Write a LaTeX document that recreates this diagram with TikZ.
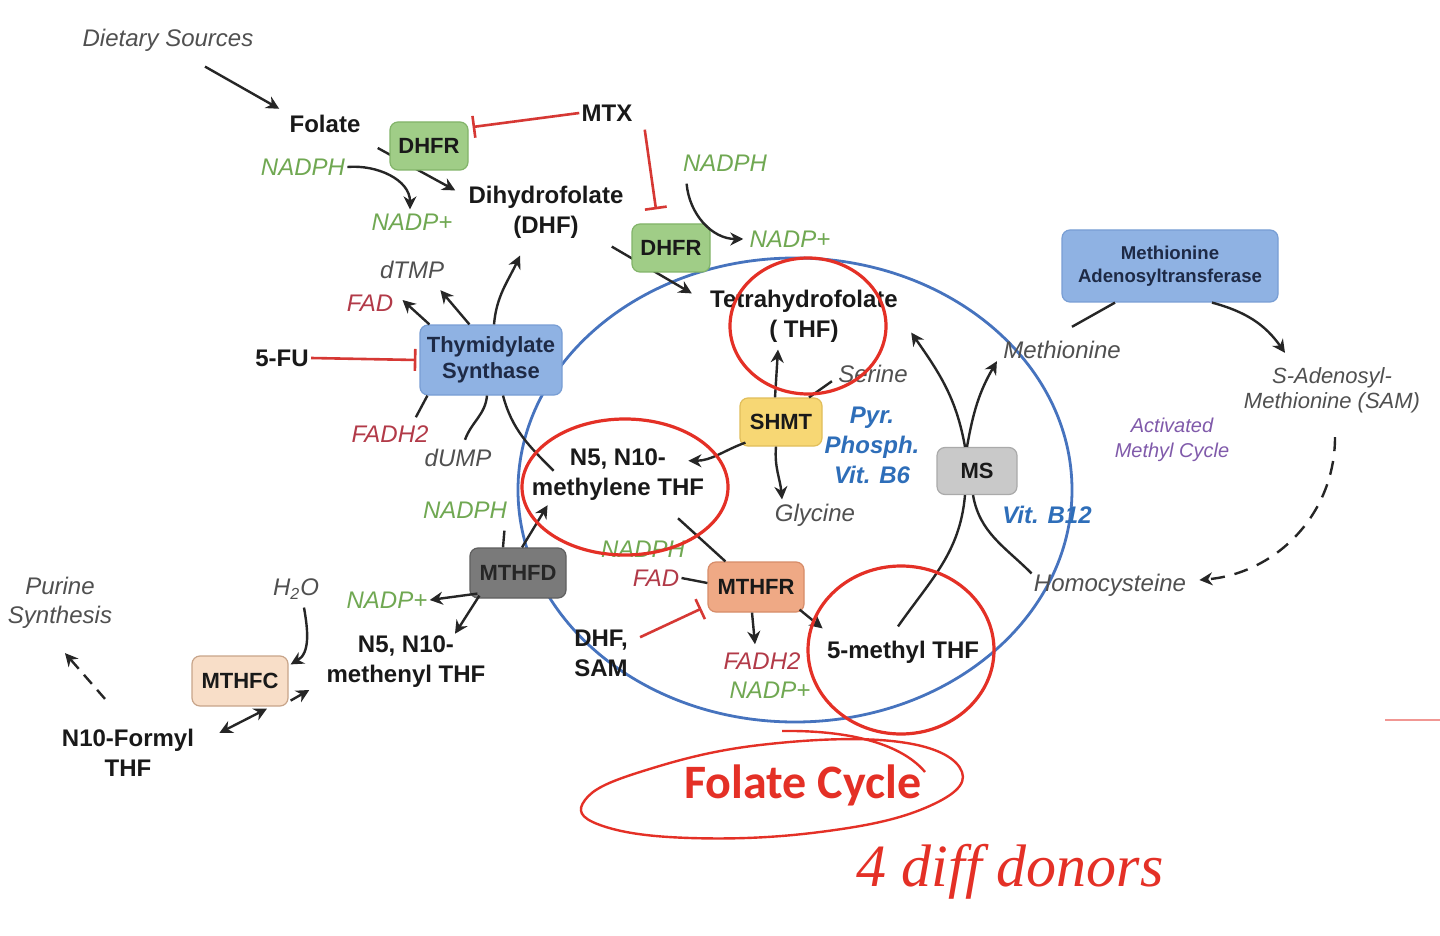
\documentclass[tikz,border=0pt]{standalone}
\usepackage{fontspec}
\setmainfont{Liberation Sans}
\newfontfamily\calfont{Carlito}
\newfontfamily\handfont{Liberation Serif}
\usetikzlibrary{arrows.meta,backgrounds}
\definecolor{nadg}{RGB}{112,168,82}
\definecolor{fadr}{RGB}{178,58,72}
\definecolor{txtg}{RGB}{80,80,80}
\definecolor{vitb}{RGB}{46,110,185}
\definecolor{purp}{RGB}{128,90,170}
\definecolor{inhr}{RGB}{214,56,52}
\definecolor{annr}{RGB}{228,48,38}
\definecolor{cycb}{RGB}{70,115,190}
\definecolor{dhfrfill}{RGB}{160,205,135}
\definecolor{dhfrdraw}{RGB}{130,180,105}
\definecolor{tsfill}{RGB}{143,178,227}
\definecolor{tsdraw}{RGB}{120,158,212}
\definecolor{tstext}{RGB}{30,42,70}
\definecolor{shmtfill}{RGB}{247,215,116}
\definecolor{shmtdraw}{RGB}{225,190,90}
\definecolor{msfill}{RGB}{201,201,201}
\definecolor{msdraw}{RGB}{170,170,170}
\definecolor{mthfdfill}{RGB}{122,122,122}
\definecolor{mthfddraw}{RGB}{95,95,95}
\definecolor{mthfrfill}{RGB}{239,169,133}
\definecolor{mthfrdraw}{RGB}{215,140,105}
\definecolor{mthfcfill}{RGB}{248,222,200}
\definecolor{mthfcdraw}{RGB}{200,165,138}
\tikzset{
  met/.style={font=\bfseries\fontsize{12}{15}\selectfont, align=center, text=black!90, inner sep=1pt},
  itl/.style={font=\itshape\fontsize{12}{14.5}\selectfont, align=center, text=txtg, inner sep=1pt},
  nad/.style={itl, text=nadg},
  fadl/.style={itl, text=fadr},
  vit/.style={font=\bfseries\itshape\fontsize{12}{15}\selectfont, align=center, text=vitb, inner sep=1pt},
  enz/.style={draw, rounded corners=4pt, font=\bfseries\fontsize{11}{13}\selectfont, align=center,
              inner sep=1pt, line width=0.6pt, minimum width=48pt, minimum height=25pt, text=black!90},
  arr/.style={-{Stealth[length=6.5pt,width=6.5pt]}, line width=1.2pt, black!85},
  lin/.style={line width=1.2pt, black!85},
  inh/.style={-{Bar[width=11pt,line width=1.3pt]}, line width=1.3pt, inhr},
  ann/.style={annr, line width=1.6pt},
  cyc/.style={cycb, line width=1.4pt}
}
\begin{document}
\begin{tikzpicture}[x=0.5pt,y=-0.5pt]
\useasboundingbox (0,0) rectangle (1440,936);
% nodes
\node[itl] (diet) at (168,40) {Dietary Sources};
\node[met] (folate) at (325,124) {Folate};
\node[enz, fill=dhfrfill, draw=dhfrdraw, minimum width=39pt, minimum height=24pt] (dhfr1) at (429,146) {DHFR};
\node[met] (mtx) at (607,113) {MTX};
\node[nad] (nadph1) at (303,167) {NADPH};
\node[nad] (nadp1) at (412,222) {NADP+};
\node[met] (dhf) at (546,212) {Dihydrofolate\\(DHF)};
\node[enz, fill=dhfrfill, draw=dhfrdraw, minimum width=39pt, minimum height=24pt] (dhfr2) at (671,248) {DHFR};
\node[nad] (nadph2) at (725,163) {NADPH};
\node[nad] (nadp2) at (790,239) {NADP+};
\node[met] (thf) at (804,316) {Tetrahydrofolate\\( THF)};
\node[enz, fill=tsfill, draw=tsdraw, text=tstext, minimum width=71pt, minimum height=35pt] (ts) at (491,360) {Thymidylate\\Synthase};
\node[met] (fu) at (282,358) {5-FU};
\node[itl] (dtmp) at (412,270) {dTMP};
\node[fadl] (fad1) at (370,303) {FAD};
\node[fadl] (fadh21) at (390,434) {FADH2};
\node[itl] (dump) at (458,458) {dUMP};
\node[met] (mthyl) at (618,475) {N5, N10-\\methylene THF};
\node[enz, fill=shmtfill, draw=shmtdraw, minimum width=41pt, minimum height=24pt] (shmt) at (781,422) {SHMT};
\node[itl] (ser) at (873,374) {Serine};
\node[itl] (gly) at (815,515) {Glycine};
\node[vit] (b6) at (872,445) {Pyr.\\Phosph.\\Vit. B6};
\node[enz, fill=msfill, draw=msdraw, minimum width=40pt, minimum height=23.5pt] (ms) at (977,471) {MS};
\node[itl] (met) at (1062,350) {Methionine};
\node[vit] (b12) at (1047,515) {Vit. B12};
\node[itl] (hcy) at (1110,585) {Homocysteine};
\node[enz, fill=tsfill, draw=tsdraw, text=tstext, font=\bfseries\fontsize{9.3}{11.5}\selectfont, minimum width=108pt, minimum height=36pt] (mat) at (1170,266) {Methionine\\Adenosyltransferase};
\node[itl, font=\itshape\fontsize{11}{12.5}\selectfont] (sam) at (1332,390) {S-Adenosyl-\\Methionine (SAM)};
\node[itl, text=purp, font=\itshape\fontsize{10}{12.5}\selectfont] (amc) at (1172,440) {Activated\\Methyl Cycle};
\node[enz, fill=mthfdfill, draw=mthfddraw, text=black!85] (mthfd) at (518,573) {MTHFD};
\node[nad] (nadph3) at (465,510) {NADPH};
\node[nad] (nadp3) at (387,600) {NADP+};
\node[met] (mthen) at (406,662) {N5, N10-\\methenyl THF};
\node[itl] (h2o) at (296,589) {H\textsubscript{2}O};
\node[enz, fill=mthfcfill, draw=mthfcdraw] (mthfc) at (240,681) {MTHFC};
\node[met] (formyl) at (128,753) {N10-Formyl\\THF};
\node[itl, font=\itshape\fontsize{12}{14.5}\selectfont] (purine) at (60,603) {Purine\\Synthesis};
\node[enz, fill=mthfrfill, draw=mthfrdraw] (mthfr) at (756,587) {MTHFR};
\node[nad] (nadph4) at (643,549) {NADPH};
\node[fadl] (fad2) at (656,578) {FAD};
\node[met] (dhfsam) at (601,653) {DHF,\\SAM};
\node[fadl] (fadh22) at (762,661) {FADH2};
\node[nad] (nadp4) at (770,690) {NADP+};
\node[met] (mthf) at (903,652) {5-methyl THF};
\node[font=\calfont\bfseries\fontsize{24}{28}\selectfont, text=annr] (fc) at (803,785) {Folate Cycle};
\node[font=\handfont\itshape\fontsize{30}{34}\selectfont, text=annr] (note) at (1010,872) {4 diff donors};

\begin{pgfonlayer}{background}
  \fill[white] (0,0) rectangle (1440,936);
  \draw[cyc] (795,490) ellipse [x radius=277, y radius=232];
  \draw[arr] ([shift={(15,24)}]folate.east) -- ([shift={(-11,7)}]dhf.north west);
  \draw[arr] ([shift={(-14,6)}]dhf.south east) -- ([shift={(-16,6)}]thf.north west);
\end{pgfonlayer}

% connectors
\draw[arr] ([shift={(37,13)}]diet.south) -- ([shift={(-8,-4)}]folate.north west);
\draw[arr] (nadph1.east) to[out=5,in=90] ([shift={(-2,-2)}]nadp1.north);
\draw[inh] (mtx.west) -- ([shift={(4,-19)}]dhfr1.east);
\draw[inh] ([shift={(10,6)}]mtx.south east) -- ([shift={(-15,-14)}]dhfr2.north);
\draw[arr] ([shift={(6,10)}]nadph2.south west) to[out=-85,in=180] ([shift={(-4,0)}]nadp2.west);
% thymidylate synthase
\draw[arr] ([shift={(10,0)}]ts.north west) -- ([shift={(7,-3)}]fad1.east);
\draw[arr] ([shift={(50,0)}]ts.north west) -- ([shift={(-6,9)}]dtmp.south east);
\draw[arr] ([shift={(3,0)}]ts.north) to[out=85,in=-115] ([shift={(-26,15)}]dhf.south);
\draw[lin] ([shift={(8,0)}]ts.south west) -- ([shift={(-15,-6)}]fadh21.north east);
\draw[lin] ([shift={(-4,0)}]ts.south) to[out=-95,in=70] ([shift={(7,-7)}]dump.north);
\draw[lin] ([shift={(12,0)}]ts.south) to[out=-75,in=135] ([shift={(24,24)}]mthyl.north west);
\draw[inh] (fu.east) -- ([shift={(-3,0)}]ts.west);
% SHMT
\draw[arr] ([shift={(-6,0)}]shmt.north) -- ([shift={(-26,5)}]thf.south);
\draw[lin] ([shift={(28,0)}]shmt.north) -- ([shift={(-4,-4)}]ser.south west);
\draw[arr] ([shift={(6,-4)}]shmt.south west) to[out=200,in=0] ([shift={(-18,14)}]mthyl.north east);
\draw[arr] ([shift={(-5,0)}]shmt.south) to[out=-95,in=95] ([shift={(-33,-2)}]gly.north);
% MS
\draw[arr] ([shift={(-12,0)}]ms.north) to[out=100,in=-55] ([shift={(11,-12)}]thf.south east);
\draw[arr] ([shift={(-10,0)}]ms.north) to[out=80,in=-120] ([shift={(-4,0)}]met.south west);
\draw[lin] ([shift={(-12,0)}]ms.south) to[out=-95,in=55] ([shift={(-5,-12)}]mthf.north);
\draw[lin] ([shift={(-4,0)}]ms.south) to[out=-80,in=135] ([shift={(0,2)}]hcy.north west);
% methyl cycle
\draw[lin] ([shift={(10,-12)}]met.north) -- ([shift={(-55,0)}]mat.south);
\draw[arr] ([shift={(42,0)}]mat.south) to[out=-15,in=125] ([shift={(-47,-12)}]sam.north);
\draw[arr, dash pattern=on 7pt off 5pt] ([shift={(3,22)}]sam.south) to[out=-90,in=5] ([shift={(11,-5)}]hcy.east);
% MTHFD
\draw[lin] ([shift={(-5,10)}]nadph3.south east) -- ([shift={(-15,0)}]mthfd.north);
\draw[arr] ([shift={(4,0)}]mthfd.north) -- ([shift={(18,2)}]mthyl.south west);
\draw[arr] ([shift={(8,-5)}]mthfd.south west) -- (nadp3.east);
\draw[arr] ([shift={(10,-3)}]mthfd.south west) -- ([shift={(49,0)}]mthen.north);
% MTHFC
\draw[arr] ([shift={(8,6)}]h2o.south) to[out=-80,in=30] ([shift={(2,9)}]mthfc.north east);
\draw[arr] ([shift={(2,-6)}]mthfc.south east) -- ([shift={(-15,28)}]mthen.west);
\draw[arr, {Stealth[length=6.5pt,width=6.5pt]}-{Stealth[length=6.5pt,width=6.5pt]}] ([shift={(23,6)}]formyl.north east) -- ([shift={(27,2)}]mthfc.south);
\draw[arr, dash pattern=on 6pt off 4pt] ([shift={(-23,-28)}]formyl.north) -- ([shift={(5,22)}]purine.south);
% MTHFR
\draw[lin] ([shift={(60,15)}]mthyl.south) -- ([shift={(18,0)}]mthfr.north west);
\draw[lin] (fad2.east) -- ([shift={(0,-4)}]mthfr.west);
\draw[inh] ([shift={(10,10)}]dhfsam.north east) -- ([shift={(-6,-4)}]mthfr.south west);
\draw[arr] ([shift={(-4,0)}]mthfr.south) -- ([shift={(-7,-6)}]fadh22.north);
\draw[arr] ([shift={(-5,-3)}]mthfr.south east) -- ([shift={(-2,-10)}]mthf.north west);

% annotations
\draw[ann] (808,326) ellipse [x radius=78, y radius=68];
\draw[ann] (625,487) ellipse [x radius=103, y radius=68];
\draw[ann] (901,650) ellipse [x radius=93, y radius=84];
\draw[annr, line width=1.2pt] plot[smooth cycle, tension=0.7] coordinates {(585,800) (640,772) (760,745) (900,742) (962,772) (925,808) (820,832) (690,838) (600,825)};
\draw[annr, line width=1.2pt] (782,731) .. controls (860,730) and (905,748) .. (925,772);
\draw[annr!50, line width=1pt] (1385,720) -- (1440,720);
\end{tikzpicture}
\end{document}
